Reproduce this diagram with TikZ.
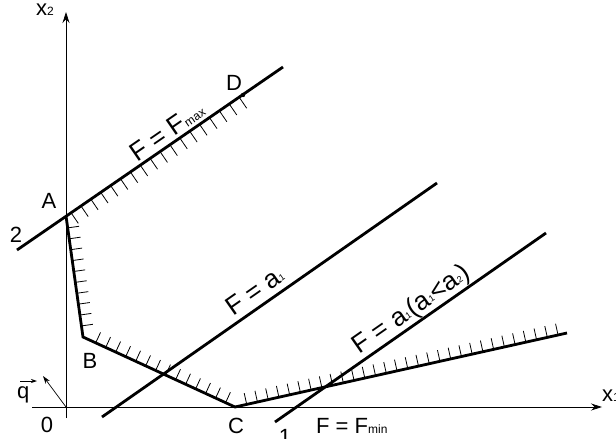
\documentclass[tikz,border=0pt]{standalone}
\usepackage{fontspec}
\setmainfont{Liberation Sans}
\usetikzlibrary{arrows.meta,decorations.markings,calc}
\newcommand\lbsub[1]{{\fontsize{12}{12}\selectfont #1}}
\newcommand\tinysub[1]{\raisebox{1.5pt}{\fontsize{9}{9}\selectfont #1}}
\begin{document}
\begin{tikzpicture}[x=1pt,y=-1pt,
  lbl/.style={font=\fontsize{22}{25}\selectfont, inner sep=0pt},
  rlbl/.style={font=\fontsize{26}{29}\selectfont, inner sep=0pt},
  bold/.style={line width=2.8pt, line join=miter},
  axis/.style={line width=0.8pt, -{Stealth[length=11pt,width=7pt]}},
  hatchleft/.style={postaction={decorate}, decoration={markings,
      mark=between positions #1 step 11pt with {\draw[line width=0.8pt] (0,0) -- (0,11.5pt);}}},
  hatchright/.style={postaction={decorate}, decoration={markings,
      mark=between positions #1 step 12pt with {\draw[line width=0.8pt] (0,0) -- (0,-13pt);}}}
]
\useasboundingbox (0,0) rectangle (616,439);
% points
\coordinate (O) at (66,407);
\coordinate (Xs) at (32,407); \coordinate (Xe) at (602,407);
\coordinate (Ys) at (66,418); \coordinate (Ye) at (66,12);
\coordinate (A) at (66,216);
\coordinate (L2s) at (17,250);
\coordinate (L2e) at (283,67);
\coordinate (D) at (243,95);
\coordinate (HD) at ($(A)!1.03!(D)$);
\coordinate (B) at (83,337);
\coordinate (C) at (235,407);
\coordinate (E) at (567,333);
\coordinate (P1s) at (102,417); \coordinate (P1e) at (437,183);
\coordinate (P2s) at (275,422); \coordinate (P2e) at (546,233);
\coordinate (Q) at (43,376);
\coordinate (QVs) at (20,381); \coordinate (QVe) at (37,381);
% axes
\draw[axis] (Xs) -- (Xe);
\draw[axis] (Ys) -- (Ye);
% hatching
\path[hatchright={6pt and -1pt}] (A) -- (HD);
\path[hatchleft={12pt and -3pt}] (A) -- (B);
\path[hatchleft={14pt and -1pt}] (B) -- (C);
\path[hatchleft={12pt and -2pt}] (C) -- (E);
% bold lines
\draw[bold] (L2s) -- (L2e);
\draw[bold] (A) -- (B) -- (C) -- (E);
\draw[bold] (P1s) -- (P1e);
\draw[bold] (P2s) -- (P2e);
\fill (D) circle (2.2pt);
% q vector
\draw[line width=0.7pt, -{Stealth[length=8pt,width=5pt]}] (O) -- (Q);
\draw[line width=0.8pt, -{Stealth[length=6pt,width=4pt]}] (QVs) -- (QVe);
% labels
\node[lbl, anchor=base west] (x2) at (36,16) {x\lbsub{2}};
\node[lbl, anchor=base west] (x1) at (602,401) {x\lbsub{1}};
\node[lbl, anchor=base] (lA) at (49,208) {A};
\node[lbl, anchor=base] (l2) at (16,242) {2};
\node[lbl, anchor=base] (lB) at (90,368) {B};
\node[lbl, anchor=base] (lC) at (236,433) {C};
\node[lbl, anchor=base] (lD) at (234,90) {D};
\node[lbl, anchor=base] (l0) at (47,432) {0};
\node[lbl, anchor=base] (l1) at (285,444) {1};
\node[lbl, anchor=base west] (lq) at (17,398) {q};
\node[lbl, anchor=base west] (lmin) at (316,433) {F = F\lbsub{min}};
\node[rlbl, rotate=34.5] (lmax) at (167,131) {F = F\lbsub{max}};
\node[rlbl, rotate=34.9] (la1) at (255,291) {F = a\tinysub{1}};
\node[rlbl, rotate=34.9] (la12) at (412,310) {F = a\tinysub{1}(a\tinysub{1}<a\tinysub{2})};
\end{tikzpicture}
\end{document}
